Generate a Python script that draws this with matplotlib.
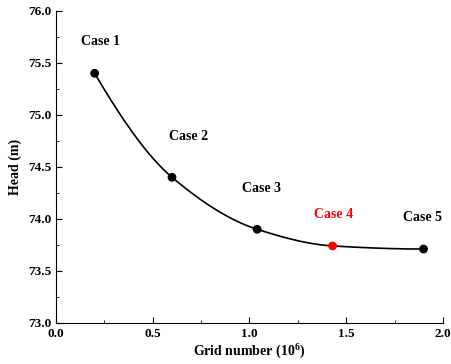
import numpy as np
import matplotlib
matplotlib.use("Agg")
import matplotlib.pyplot as plt
from matplotlib.ticker import MultipleLocator

plt.rcParams['font.family'] = ['Liberation Serif', 'DejaVu Serif']
plt.rcParams['font.weight'] = 'bold'
plt.rcParams['mathtext.fontset'] = 'custom'
plt.rcParams['mathtext.rm'] = 'Liberation Serif:bold'
plt.rcParams['mathtext.bf'] = 'Liberation Serif:bold'

# data
grid = [0.20, 0.60, 1.04, 1.43, 1.90]
head = [75.40, 74.40, 73.90, 73.74, 73.71]
cases = ['Case 1', 'Case 2', 'Case 3', 'Case 4', 'Case 5']
colors = ['black', 'black', 'black', 'red', 'black']
# label offsets in points
offsets = [(4, 18), (12, 25), (3, 25), (1, 18), (-1, 18)]


def pchip(x, y, xs):
    # monotone cubic interpolation
    x = np.asarray(x, float)
    y = np.asarray(y, float)
    h = np.diff(x)
    d = np.diff(y) / h
    n = len(x)
    m = np.zeros(n)
    for k in range(1, n - 1):
        if d[k - 1] * d[k] > 0:
            w1 = 2 * h[k] + h[k - 1]
            w2 = h[k] + 2 * h[k - 1]
            m[k] = (w1 + w2) / (w1 / d[k - 1] + w2 / d[k])
    m[0] = ((2 * h[0] + h[1]) * d[0] - h[0] * d[1]) / (h[0] + h[1])
    if np.sign(m[0]) != np.sign(d[0]):
        m[0] = 0
    m[-1] = ((2 * h[-1] + h[-2]) * d[-1] - h[-1] * d[-2]) / (h[-1] + h[-2])
    if np.sign(m[-1]) != np.sign(d[-1]):
        m[-1] = 0
    ys = np.empty_like(xs)
    for i, xv in enumerate(xs):
        k = min(np.searchsorted(x, xv) - 1, n - 2)
        k = max(k, 0)
        t = (xv - x[k]) / h[k]
        h00 = 2 * t**3 - 3 * t**2 + 1
        h10 = t**3 - 2 * t**2 + t
        h01 = -2 * t**3 + 3 * t**2
        h11 = t**3 - t**2
        ys[i] = h00 * y[k] + h10 * h[k] * m[k] + h01 * y[k + 1] + h11 * h[k] * m[k + 1]
    return ys


fig = plt.figure(figsize=(4.51, 3.64), dpi=100)
ax = fig.add_axes([0.124, 0.113, 0.858, 0.857])

xs = np.linspace(grid[0], grid[-1], 300)
ax.plot(xs, pchip(grid, head, xs), color='black', lw=1.2)
ax.scatter(grid, head, c=colors, s=28, zorder=3)

for x, y, lab, c, off in zip(grid, head, cases, colors, offsets):
    ax.annotate(lab, (x, y), xytext=off, textcoords='offset points',
                ha='center', va='bottom', color=c, fontsize=10, fontweight='bold')

ax.set_xlim(0, 2.0)
ax.set_ylim(73.0, 76.0)
ax.xaxis.set_major_locator(MultipleLocator(0.5))
ax.xaxis.set_minor_locator(MultipleLocator(0.25))
ax.yaxis.set_major_locator(MultipleLocator(0.5))
ax.yaxis.set_minor_locator(MultipleLocator(0.25))
ax.xaxis.set_major_formatter(lambda v, p: f'{v:.1f}')
ax.yaxis.set_major_formatter(lambda v, p: f'{v:.1f}')
ax.tick_params(which='both', direction='in', labelsize=9.5)
ax.tick_params(which='major', length=4)
ax.tick_params(which='minor', length=2.5)
ax.spines['top'].set_visible(False)
ax.spines['right'].set_visible(False)

ax.set_xlabel('Grid number (10$^{6}$)', fontsize=10, fontweight='bold', labelpad=1)
ax.set_ylabel('Head (m)', fontsize=10, fontweight='bold', labelpad=4)

fig.savefig('out.png', dpi=100)
